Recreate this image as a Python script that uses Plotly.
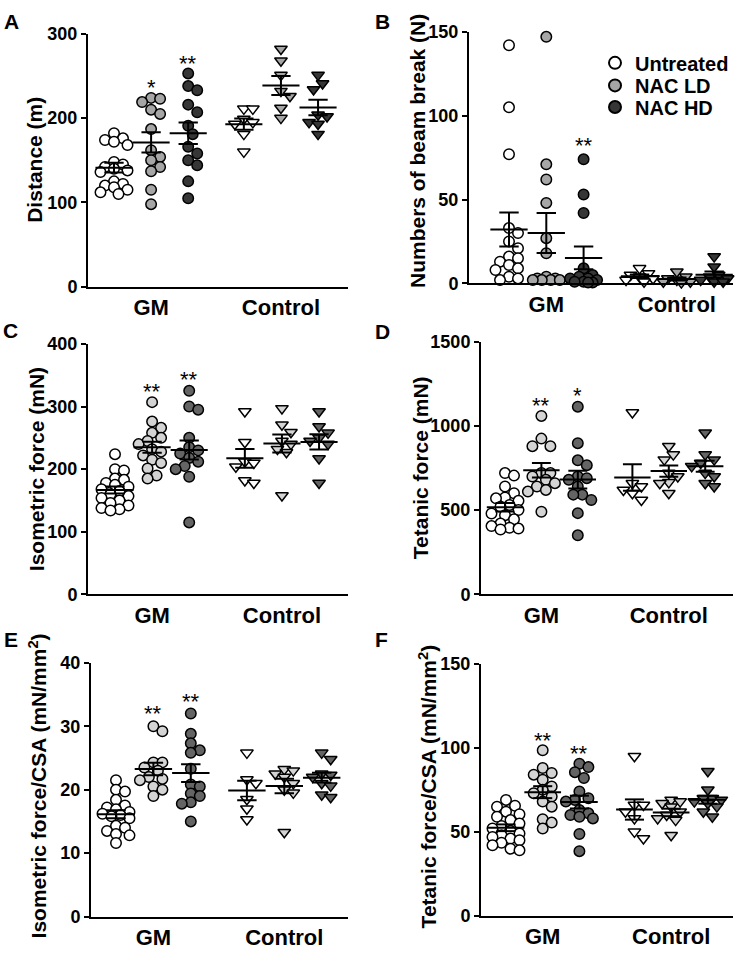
import plotly.graph_objects as go

W, H = 742, 955

# ---------------- data ----------------
group_names = ["Untreated", "NAC LD", "NAC HD"]
category_labels = ["GM", "Control"]

A_gm_untreated = [182, 176, 174, 172, 168, 148, 145, 142, 140, 138, 136, 125, 122, 120, 118, 115, 112, 110]
A_gm_ld = [224, 223, 219, 210, 205, 187, 162, 154, 150, 142, 137, 115, 98]
A_gm_hd = [253, 238, 233, 216, 207, 191, 181, 166, 158, 150, 144, 125, 105]
A_ct_untreated = [211, 211, 199, 195, 193, 181, 160]
A_ct_ld = [282, 268, 251, 232, 226, 212, 200]
A_ct_hd = [251, 241, 234, 204, 202, 195, 193, 181]

B_gm_untreated = [142, 105, 77, 33, 30, 25, 21, 16, 15, 13, 11, 9, 8, 4, 3, 2]
B_gm_ld = [147, 71, 62, 48, 27, 18, 4, 3, 3, 2, 2, 2, 2]
B_gm_hd = [74, 53, 42, 9, 5, 4, 3, 3, 2, 1, 1, 0.5, 0.5]
B_ct_untreated = [9, 6, 5, 4, 3, 2, 1]
B_ct_ld = [7, 4, 3, 2, 1, 1, 0.5]
B_ct_hd = [16, 10, 5, 4, 3, 2, 1, 1]

C_gm_untreated = [224, 200, 198, 185, 183, 178, 175, 172, 168, 165, 160, 157, 154, 150, 146, 142, 138, 136, 134]
C_gm_ld = [307, 276, 266, 258, 250, 245, 240, 232, 228, 222, 215, 210, 201, 190, 185]
C_gm_hd = [325, 300, 295, 250, 235, 230, 225, 218, 212, 205, 200, 188, 115]
C_ct_untreated = [292, 243, 212, 210, 204, 182, 178]
C_ct_ld = [297, 271, 259, 245, 240, 232, 227, 158]
C_ct_hd = [292, 268, 258, 250, 245, 240, 217, 178]

D_gm_untreated = [720, 705, 640, 600, 575, 570, 555, 530, 520, 500, 480, 470, 445, 420, 405, 395, 390, 385]
D_gm_ld = [1060, 925, 880, 880, 720, 720, 700, 680, 660, 640, 620, 610, 490]
D_gm_hd = [1115, 898, 796, 767, 700, 690, 680, 640, 592, 592, 560, 482, 350]
D_ct_untreated = [1080, 660, 640, 620, 600, 560]
D_ct_ld = [880, 830, 800, 720, 700, 665, 660, 600]
D_ct_hd = [960, 830, 800, 780, 760, 720, 700, 660, 640]

E_gm_untreated = [21.5, 20, 19.7, 18.4, 17.5, 17.2, 16.9, 16.5, 16.2, 16, 15.8, 15.5, 14.3, 14, 13.5, 13, 12.8, 11.6]
E_gm_ld = [30, 29.2, 24.3, 24.3, 23.5, 23, 22, 21.7, 21.5, 20.5, 20, 19]
E_gm_hd = [32, 28.8, 27.3, 26.2, 25.8, 23.3, 20.8, 20.5, 19.4, 19, 18, 17.8, 15]
E_ct_untreated = [25.8, 21.6, 21, 18.5, 17, 15.3]
E_ct_ld = [23.2, 23, 22.5, 22, 21, 20, 19.5, 13.3]
E_ct_hd = [25.8, 24.8, 22.5, 22.3, 22, 21, 20.6, 19.2, 18.8]

F_gm_untreated = [69, 65.5, 65, 62, 60.5, 59, 57, 55, 53.5, 52, 50.5, 49, 48, 47, 46, 45, 43.5, 42, 40, 39]
F_gm_ld = [98.5, 88, 85, 84, 81, 77, 75, 73, 71, 68, 65, 57.5, 55.5, 52]
F_gm_hd = [90.5, 88.5, 85.5, 82, 74, 70, 69, 68, 63, 61, 60, 59, 58, 48.7, 38.5]
F_ct_untreated = [95, 66, 66, 62, 58, 50, 46]
F_ct_ld = [69, 68, 67, 65, 62, 60, 58, 57, 48]
F_ct_hd = [86, 75, 70, 70, 69, 68, 67, 65, 62, 59]

# significance marks: (group index 0..5, y value, text)
A_stars = [(1, 240, "*"), (2, 268, "**")]
B_stars = [(2, 84, "**")]
C_stars = [(1, 329, "**"), (2, 348, "**")]
D_stars = [(1, 1141, "**"), (2, 1200, "*")]
E_stars = [(1, 32.4, "**"), (2, 34.4, "**")]
F_stars = [(1, 106.3, "**"), (2, 98.2, "**")]

y_titles = {
    "A": "Distance (m)",
    "B": "Numbers of beam break (N)",
    "C": "Isometric force (mN)",
    "D": "Tetanic force (mN)",
    "E": "Isometric force/CSA (mN/mm<sup>2</sup>)",
    "F": "Tetanic force/CSA (mN/mm<sup>2</sup>)",
}

# ---------------- layout / style ----------------
FONT = "Liberation Sans, Arial, sans-serif"
group_pos = [1, 2, 3, 4.5, 5.5, 6.5]
cat_pos = [2, 5.5]

panels = {
    "A": dict(data=[A_gm_untreated, A_gm_ld, A_gm_hd, A_ct_untreated, A_ct_ld, A_ct_hd], stars=A_stars,
              xpx=(88, 348), ypx=(24.3, 282.7), ymax=300, dtick=100, first=114, sp=37.1,
              colors=["#ffffff", "#a6a6a6", "#363636"], title=(35, 153)),
    "B": dict(data=[B_gm_untreated, B_gm_ld, B_gm_hd, B_ct_untreated, B_ct_ld, B_ct_hd], stars=B_stars,
              xpx=(469, 733), ypx=(22.3, 279.3), ymax=150, dtick=50, first=509, sp=37.3,
              colors=["#ffffff", "#a6a6a6", "#363636"], title=(418, 144)),
    "C": dict(data=[C_gm_untreated, C_gm_ld, C_gm_hd, C_ct_untreated, C_ct_ld, C_ct_hd], stars=C_stars,
              xpx=(88, 348), ypx=(341, 597), ymax=400, dtick=100, first=115, sp=37.1,
              colors=["#ffffff", "#d4d4d4", "#646464"], title=(36, 469)),
    "D": dict(data=[D_gm_untreated, D_gm_ld, D_gm_hd, D_ct_untreated, D_ct_ld, D_ct_hd], stars=D_stars,
              xpx=(481, 733), ypx=(339, 596.7), ymax=1500, dtick=500, first=505, sp=36.4,
              colors=["#ffffff", "#d4d4d4", "#646464"], title=(420, 468)),
    "E": dict(data=[E_gm_untreated, E_gm_ld, E_gm_hd, E_ct_untreated, E_ct_ld, E_ct_hd], stars=E_stars,
              xpx=(91, 348), ypx=(666.7, 926), ymax=40, dtick=10, first=116, sp=37.4,
              colors=["#ffffff", "#d4d4d4", "#646464"], title=(38, 793)),
    "F": dict(data=[F_gm_untreated, F_gm_ld, F_gm_hd, F_ct_untreated, F_ct_ld, F_ct_hd], stars=F_stars,
              xpx=(481, 733), ypx=(667.7, 925.3), ymax=150, dtick=50, first=506, sp=36.7,
              colors=["#ffffff", "#d4d4d4", "#646464"], title=(428, 793)),
}
letter_pos = {"A": (11, 12), "B": (382, 12), "C": (10, 327), "D": (383, 328), "E": (11, 643), "F": (381, 643)}
legend_rows = [54, 77, 99]


def swarm(values, ppy, dist, step, cap):
    """Deterministic beeswarm with a maximum half-width: returns horizontal pixel offsets."""
    n = len(values)
    order = sorted(range(n), key=lambda i: -values[i])
    nsteps = int(cap // step)
    cands = [0.0]
    for j in range(1, nsteps + 1):
        cands += [j * step, -j * step]
    placed = []
    offs = [0.0] * n
    for i in order:
        y = values[i] * ppy
        best, best_d = None, -1
        for x in cands:
            d = min([((x - px) ** 2 + (y - py) ** 2) ** 0.5 for px, py in placed] or [1e9])
            if d >= dist:
                best = x
                break
            if d > best_d + 0.5:
                best, best_d = x, d
        placed.append((best, y))
        offs[i] = best
    return offs


fig = go.Figure()
annotations = []
names = list(panels.keys())
for idx, name in enumerate(names):
    p = panels[name]
    ax = "" if idx == 0 else str(idx + 1)
    xa, ya = "x" + ax, "y" + ax
    x0px, x1px = p["xpx"]
    ytop, ybot = p["ypx"]
    sp = p["sp"]
    xr = (1 - (p["first"] - x0px) / sp, 1 + (x1px - p["first"]) / sp)
    ppy = (ybot - ytop) / p["ymax"]
    fig.layout["xaxis" + ax] = dict(
        domain=[x0px / W, x1px / W], range=list(xr), anchor=ya,
        showline=True, linecolor="black", linewidth=2, ticks="", showgrid=False, zeroline=False,
        tickvals=cat_pos, ticktext=category_labels,
        tickfont=dict(family=FONT, size=22, color="black", weight="bold"), fixedrange=True)
    fig.layout["yaxis" + ax] = dict(
        domain=[1 - ybot / H, 1 - ytop / H], range=[0, p["ymax"]], anchor=xa,
        showline=True, linecolor="black", linewidth=2, ticks="outside", ticklen=5, tickwidth=2,
        tickcolor="black", dtick=p["dtick"], showgrid=False, zeroline=False,
        tickfont=dict(family=FONT, size=18, color="black", weight="bold"), fixedrange=True)

    for g, vals in enumerate(p["data"]):
        kind = g % 3
        is_ctrl = g >= 3
        offs = swarm(vals, ppy, 9.0, 4.5, 16)
        xs = [group_pos[g] + o / sp for o in offs]
        show = (name == "B" and not is_ctrl)
        fig.add_trace(go.Scatter(
            x=xs, y=vals, xaxis=xa, yaxis=ya, mode="markers", cliponaxis=False,
            name=group_names[kind], showlegend=show,
            legend=["legend", "legend2", "legend3"][kind],
            marker=dict(symbol="triangle-down" if is_ctrl else "circle",
                        size=11 if is_ctrl else 10.5, color=p["colors"][kind],
                        line=dict(color="black", width=1.5)),
            hoverinfo="skip"))

    # mean +/- SEM
    lx, ly = [], []
    for g, vals in enumerate(p["data"]):
        n = len(vals)
        m = sum(vals) / n
        sd = (sum((v - m) ** 2 for v in vals) / (n - 1)) ** 0.5
        se = sd / n ** 0.5
        c = group_pos[g]
        lx += [c - 0.5, c + 0.5, None, c - 0.26, c + 0.26, None, c - 0.26, c + 0.26, None, c, c, None]
        ly += [m, m, None, m + se, m + se, None, m - se, m - se, None, m - se, m + se, None]
    fig.add_trace(go.Scatter(x=lx, y=ly, xaxis=xa, yaxis=ya, mode="lines", showlegend=False,
                             line=dict(color="black", width=2), hoverinfo="skip", cliponaxis=False))

    for g, yv, txt in p["stars"]:
        annotations.append(dict(x=group_pos[g], y=yv, xref=xa, yref=ya, text=txt, showarrow=False,
                                yshift=-3, font=dict(family=FONT, size=22, color="black")))

    tx, ty = p["title"]
    annotations.append(dict(x=tx / W, y=1 - ty / H, xref="paper", yref="paper",
                            text=y_titles[name], textangle=-90, showarrow=False,
                            xanchor="center", yanchor="middle",
                            font=dict(family=FONT, size=21, color="black", weight="bold")))
    lx_, ly_ = letter_pos[name]
    annotations.append(dict(x=lx_ / W, y=1 - ly_ / H, xref="paper", yref="paper", text=name,
                            showarrow=False, xanchor="center", yanchor="middle",
                            font=dict(family=FONT, size=21, color="black", weight="bold")))

legend_style = dict(x=595 / W, xanchor="left", yanchor="middle",
                    font=dict(family=FONT, size=20, color="black", weight="bold"),
                    bgcolor="rgba(0,0,0,0)", itemwidth=30, itemsizing="constant")
fig.update_layout(
    width=W, height=H, margin=dict(l=0, r=0, t=0, b=0),
    paper_bgcolor="white", plot_bgcolor="white",
    annotations=annotations,
    legend=dict(y=1 - legend_rows[0] / H, **legend_style),
    legend2=dict(y=1 - legend_rows[1] / H, **legend_style),
    legend3=dict(y=1 - legend_rows[2] / H, **legend_style),
)

fig.write_html("out.html", config={"displayModeBar": False},
               post_script="document.body.style.margin='0';document.body.style.overflow='hidden';")
